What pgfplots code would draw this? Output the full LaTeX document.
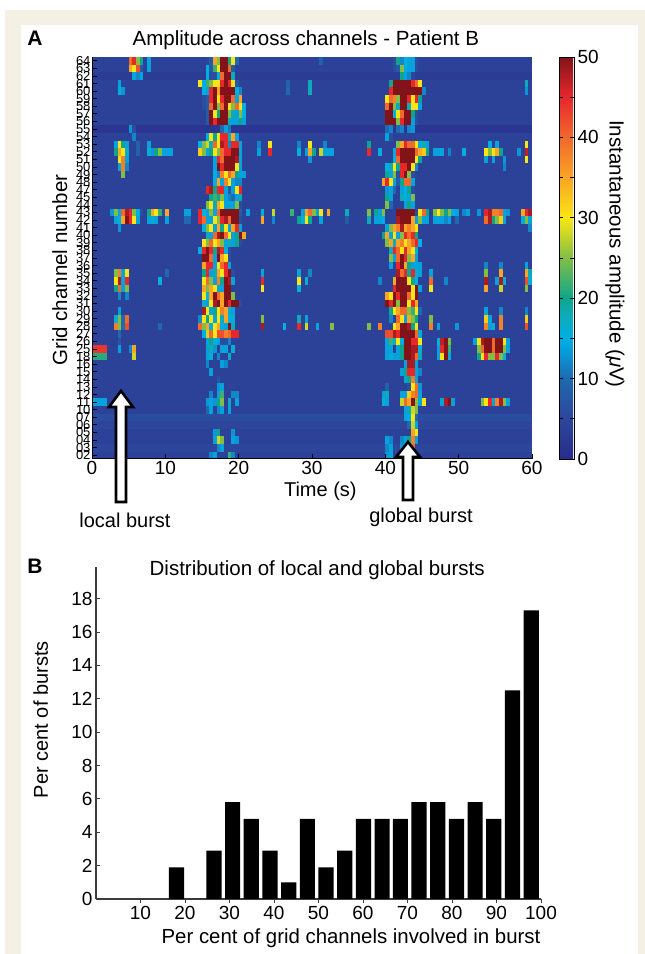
\documentclass[border=0pt]{standalone}
\usepackage{fontspec}
\setmainfont{Liberation Sans}
\usepackage{pgfplots}
\usepackage{pgfplotstable}
\pgfplotsset{compat=1.18}

\definecolor{cream}{RGB}{244,241,228}
\definecolor{spine}{RGB}{60,60,60}

\pgfplotsset{
  colormap={brain}{
    rgb255(0pt)=(40,44,138);
    rgb255(5pt)=(45,70,155);
    rgb255(10pt)=(30,105,175);
    rgb255(13pt)=(10,150,215);
    rgb255(15pt)=(0,175,225);
    rgb255(18pt)=(15,170,185);
    rgb255(20pt)=(15,165,140);
    rgb255(25pt)=(130,190,70);
    rgb255(30pt)=(250,230,20);
    rgb255(35pt)=(250,165,35);
    rgb255(40pt)=(240,105,45);
    rgb255(45pt)=(230,40,45);
    rgb255(50pt)=(130,20,25)
  }
}

% amplitude in uV, one line per channel (r52 = channel 64 ... r0 = channel 02),
% one value per 0.5 s, spaced in blocks of 5 s
\pgfplotstableread{
ch 0 0.5 1 1.5 2 2.5 3 3.5 4 4.5 5 5.5 6 6.5 7 7.5 8 8.5 9 9.5 10 10.5 11 11.5 12 12.5 13 13.5 14 14.5 15 15.5 16 16.5 17 17.5 18 18.5 19 19.5 20 20.5 21 21.5 22 22.5 23 23.5 24 24.5 25 25.5 26 26.5 27 27.5 28 28.5 29 29.5 30 30.5 31 31.5 32 32.5 33 33.5 34 34.5 35 35.5 36 36.5 37 37.5 38 38.5 39 39.5 40 40.5 41 41.5 42 42.5 43 43.5 44 44.5 45 45.5 46 46.5 47 47.5 48 48.5 49 49.5 50 50.5 51 51.5 52 52.5 53 53.5 54 54.5 55 55.5 56 56.5 57 57.5 58 58.5 59 59.5 60
r52  4 4 4 4 4 4 4 4 4 4  40 45 25 20 4 14 4 4 4 4  4 4 4 4 4 4 4 4 4 4  4 5 8 35 25 50 50 20 30 10  4 4 4 4 4 4 4 4 4 4  4 4 4 4 4 4 4 4 4 4  4 4 9 4 4 4 4 4 4 4  4 4 4 4 4 4 4 4 4 4  4 4 6 20 12 15 14 14 6 4  4 4 4 4 4 4 4 4 4 4  4 4 4 4 4 4 4 4 4 4  4 4 4 4 4 4 4 4 4 4  4
r51  4 4 4 4 4 4 4 4 4 4  35 30 42 8 4 14 4 4 4 4  4 4 4 4 4 4 4 4 4 4  4 15 8 22 30 50 50 40 8 4  4 4 4 4 4 4 4 4 4 4  4 4 4 4 4 4 4 4 4 4  4 4 4 4 4 4 4 4 4 4  4 4 4 4 4 4 4 4 4 4  4 4 6 8 25 15 14 14 6 4  4 4 4 4 4 4 4 4 4 4  4 4 4 4 4 4 4 4 4 4  4 4 4 4 4 4 4 4 4 4  4
r50  3 3 3 3 3 3 3 3 3 3  3 14 12 14 3 3 3 3 3 3  3 3 3 3 3 3 3 3 3 3  3 15 6 6 16 40 50 50 18 3  3 3 3 3 3 3 3 3 3 3  3 3 3 3 3 3 3 3 3 3  3 3 3 3 3 3 3 3 3 3  3 3 3 3 3 3 3 3 3 3  3 3 3 3 20 14 12 5 3 3  3 3 3 3 3 3 3 3 3 3  3 3 3 3 3 3 3 3 3 3  3 3 3 3 3 3 3 3 3 3  3
r49  4 4 4 4 4 4 4 14 4 4  4 4 4 4 4 4 4 4 4 4  4 4 4 4 4 4 4 4 4 30  15 22 25 30 30 45 50 45 30 8  4 4 4 4 4 4 4 4 4 4  4 4 4 9 4 4 4 4 4 18  4 4 4 4 4 4 4 4 4 4  4 4 4 4 4 4 4 4 4 4  4 20 50 50 50 50 50 45 40 30  4 4 4 4 4 4 4 4 4 4  4 4 4 4 4 4 4 4 4 4  4 4 4 4 4 4 4 4 18 4  4
r48  4 4 4 4 4 4 4 16 13 4  4 4 4 4 4 4 4 4 4 4  4 4 4 4 4 4 4 4 4 4  15 14 45 50 35 50 50 50 50 15  12 4 4 4 4 4 4 4 4 4  4 4 4 10 4 4 4 4 4 18  4 4 4 4 4 4 4 4 4 4  4 4 4 4 4 4 4 4 4 4  4 45 50 50 50 50 50 50 50 50  12 4 4 4 4 4 4 4 4 4  4 4 4 4 4 4 4 4 4 4  4 4 4 4 4 4 4 4 13 4  4
r47  4 4 4 4 4 4 4 4 4 4  4 4 4 4 4 4 4 4 4 4  4 4 4 4 4 4 4 4 4 4  6 8 45 50 30 45 50 50 40 14  35 4 4 4 4 4 4 4 4 4  4 4 4 4 4 4 4 4 4 4  4 4 4 4 4 4 4 4 4 4  4 4 4 4 4 4 4 4 4 4  30 40 38 25 50 50 45 30 45 20  4 4 4 4 4 4 4 4 4 4  4 4 4 4 4 4 4 4 4 4  4 4 4 4 4 4 4 4 4 4  4
r46  4 4 4 4 4 4 4 4 4 4  4 4 4 4 4 4 4 4 4 4  4 4 4 4 4 4 4 4 4 4  6 8 40 50 25 40 50 30 25 40  30 15 4 4 4 4 4 4 4 4  4 4 4 4 4 4 4 4 4 4  4 4 4 4 4 4 4 4 4 4  4 4 4 4 4 4 4 4 4 4  40 50 25 18 50 50 18 30 30 14  4 4 4 4 4 4 4 4 4 4  4 4 4 4 4 4 4 4 4 4  4 4 4 4 4 4 4 4 4 4  4
r45  4 4 4 4 4 4 4 4 4 4  4 4 4 4 4 4 4 4 4 4  4 4 4 4 4 4 4 4 4 4  4 8 50 30 20 50 50 25 18 14  25 15 4 4 4 4 4 4 4 4  4 4 4 4 4 4 4 4 4 4  4 4 4 4 4 4 4 4 4 4  4 4 4 4 4 4 4 4 4 4  50 50 15 30 40 50 50 20 6 4  4 4 4 4 4 4 4 4 4 4  4 4 4 4 4 4 4 4 4 4  4 4 4 4 4 4 4 4 4 4  4
r44  4 4 4 4 4 4 4 4 4 4  4 4 4 4 4 4 4 4 4 4  4 4 4 4 4 4 4 4 4 4  4 8 50 45 50 50 50 18 14 14  20 14 4 4 4 4 4 4 4 4  4 4 4 4 4 4 4 4 4 4  4 4 4 4 4 4 4 4 4 4  4 4 4 4 4 4 4 4 4 4  50 50 50 25 45 50 50 14 6 4  4 4 4 4 4 4 4 4 4 4  4 4 4 4 4 4 4 4 4 4  4 4 4 4 4 4 4 4 4 4  4
r43  2 2 2 2 2 2 2 2 2 2  13 6 2 2 2 2 2 2 2 2  2 2 2 2 2 2 2 2 2 2  2 2 2 2 2 10 14 11 2 2  2 2 2 2 2 2 2 2 2 2  2 2 2 2 2 2 2 2 2 2  2 2 2 2 2 2 2 2 2 2  2 2 2 2 2 2 2 2 2 2  10 12 2 10 12 2 12 13 2 2  2 2 2 2 2 2 2 2 2 2  2 2 2 2 2 2 2 2 2 2  2 2 2 2 2 2 2 2 2 2  2
r42  4 4 4 4 4 4 4 4 4 4  4 12 4 4 4 4 4 4 4 4  4 4 4 4 4 4 4 4 4 4  4 15 30 20 30 45 45 18 35 14  4 4 4 4 4 4 4 4 4 4  4 4 4 4 4 4 4 4 4 4  4 4 4 4 4 4 4 4 4 4  4 4 4 4 4 4 4 4 4 4  14 6 4 4 4 4 4 4 4 4  4 4 4 4 4 4 4 4 4 4  4 4 4 4 4 4 4 4 4 4  4 4 4 4 4 4 4 4 4 4  4
r41  4 4 4 4 4 4 14 30 20 14  4 4 9 4 4 14 4 4 4 4  4 4 4 4 4 4 4 4 4 15  25 28 18 40 30 48 45 12 45 45  14 4 4 4 4 12 4 4 30 4  4 4 4 4 4 4 12 4 4 30  4 4 4 12 4 4 4 4 4 4  4 4 4 4 4 20 4 4 4 4  4 4 4 25 35 45 40 40 30 16  18 14 4 4 4 4 4 4 4 4  4 4 4 4 4 4 4 4 15 4  14 4 4 4 4 4 4 4 30 4  4
r40  4 4 4 4 4 4 20 35 30 16  4 4 9 4 4 16 13 20 25 14  14 14 4 4 4 4 4 4 4 32  25 14 20 30 25 40 45 45 50 50  14 4 4 4 4 14 4 4 45 4  4 4 4 4 4 4 15 4 14 35  20 4 28 14 14 14 4 4 4 4  4 4 4 4 4 45 4 4 15 4  4 4 16 45 50 50 50 50 40 35  32 20 4 14 14 14 4 12 4 4  4 15 4 4 4 4 4 30 25 30  35 20 4 4 4 4 13 4 47 4  4
r39  4 4 4 4 4 4 4 30 38 14  4 4 4 4 4 4 4 4 4 4  4 4 4 4 4 4 4 4 4 4  4 4 4 14 45 40 50 50 50 48  14 4 4 4 4 4 4 4 4 4  4 4 4 4 4 4 4 4 4 13  4 4 4 4 4 4 4 4 4 4  4 4 4 4 4 4 4 4 4 4  4 4 15 40 50 50 50 50 30 20  4 4 4 4 4 4 4 4 4 4  4 4 4 4 4 4 4 14 4 14  4 4 13 4 4 4 4 4 30 4  4
r38  4 4 4 4 4 4 4 14 38 12  4 4 4 4 4 4 4 4 4 4  4 4 4 4 4 4 4 4 4 4  4 4 4 14 50 45 50 50 50 30  14 4 4 4 4 4 4 4 4 4  4 4 4 4 4 4 4 4 4 4  4 4 4 4 4 4 4 4 4 4  4 4 4 4 4 4 4 4 4 4  15 18 30 20 45 45 50 30 12 4  4 4 4 4 4 4 4 4 4 4  4 4 4 4 4 4 4 4 4 4  4 4 12 4 4 4 4 4 4 4  4
r37  4 4 4 4 4 4 4 4 25 4  4 4 4 4 4 4 4 4 4 4  4 4 4 4 4 4 4 4 4 4  4 4 4 15 12 38 30 40 35 20  14 14 4 4 4 4 4 4 4 4  4 4 4 4 4 4 4 4 4 4  4 4 4 4 4 4 4 4 4 4  4 4 4 4 4 4 4 4 4 4  20 14 25 6 45 50 25 6 4 4  4 4 4 4 4 4 4 4 4 4  4 4 4 4 4 4 4 4 4 4  4 4 4 4 4 4 4 4 4 4  4
r36  4 4 4 4 4 4 4 4 4 4  4 4 4 4 4 4 4 4 4 4  4 4 4 4 4 4 4 4 4 4  4 4 4 15 35 14 38 30 14 12  12 4 4 4 4 4 4 4 4 4  4 4 4 4 4 4 4 4 4 4  4 4 4 4 4 4 4 4 4 4  4 4 4 4 4 4 4 4 4 35  45 30 14 8 20 40 40 14 4 4  4 4 4 4 4 4 4 4 4 4  4 4 4 4 4 4 4 4 4 4  4 4 4 4 4 4 4 4 4 4  4
r35  4 4 4 4 4 4 4 4 4 4  4 4 4 4 4 4 4 4 4 4  4 4 4 4 4 4 4 4 4 4  4 45 48 20 45 45 14 8 14 30  45 4 4 4 4 4 4 4 4 4  4 4 4 4 4 4 4 4 4 4  4 4 4 4 4 4 4 4 4 4  4 4 4 4 4 4 4 4 4 4  13 14 10 4 14 15 20 6 4 4  4 4 4 4 4 4 4 4 4 4  4 4 4 4 4 4 4 4 4 4  4 4 4 4 4 4 4 4 4 4  4
r34  4 4 4 4 4 4 4 4 4 4  4 4 4 4 4 4 4 4 4 4  4 4 4 4 4 4 4 4 4 4  4 4 20 22 20 25 14 12 10 14  18 4 4 4 4 4 4 4 4 4  4 4 4 4 4 4 4 4 4 4  4 4 4 4 4 4 4 4 4 4  4 4 4 4 4 4 4 4 4 4  20 14 4 4 18 15 14 25 4 4  4 4 4 4 4 4 4 4 4 4  4 4 4 4 4 4 4 4 4 4  4 4 4 4 4 4 4 4 4 4  4
r33  4 4 4 4 4 4 4 4 4 4  4 4 4 4 4 4 4 4 4 4  4 4 4 4 4 4 4 4 4 4  4 25 30 18 35 30 14 14 14 25  6 4 4 4 4 4 4 4 4 4  4 4 4 4 4 4 4 4 4 4  4 4 4 4 4 4 4 4 4 4  4 4 4 4 4 4 4 4 4 4  25 10 4 4 4 14 20 14 4 4  4 4 4 4 4 4 4 4 4 4  4 4 4 4 4 4 4 4 4 4  4 4 4 4 4 4 4 4 4 4  4
r32  4 4 4 4 4 13 25 14 40 48  45 25 15 6 4 20 35 30 22 6  35 4 4 4 4 14 14 4 4 45  15 14 25 14 40 50 50 50 50 50  8 4 14 4 4 4 16 4 4 28  4 4 4 4 22 4 4 14 35 40  25 14 30 4 35 4 4 4 4 18  4 4 4 4 4 25 4 20 14 25  4 4 4 50 50 50 50 50 6 30  40 20 4 25 30 25 20 25 15 14  4 12 14 4 4 13 4 45 48 38  38 40 14 13 4 4 4 35 45 48  4
r31  4 4 4 4 4 4 14 15 35 50  45 30 14 4 4 14 16 14 4 4  14 4 4 4 4 10 10 4 4 45  40 14 14 30 25 45 48 40 50 50  6 4 4 4 4 4 35 4 4 12  4 4 4 4 4 4 20 15 30 20  4 4 14 4 4 4 4 4 4 8  4 4 4 4 4 18 4 14 14 15  4 4 4 48 50 50 50 35 14 25  14 14 4 14 14 14 12 14 4 10  4 4 4 4 4 4 4 40 48 20  25 32 14 4 4 4 4 16 25 14  4
r30  4 4 4 4 4 4 4 13 4 4  4 4 4 4 4 4 4 4 4 4  4 4 4 4 4 4 4 4 4 4  15 25 30 14 35 20 30 14 35 45  14 4 4 4 4 4 4 4 4 4  4 4 4 4 4 4 4 4 4 4  4 4 4 4 4 4 4 4 4 4  4 4 4 4 4 4 4 4 4 4  14 25 35 38 48 35 38 35 30 4  4 4 4 4 4 4 4 4 4 4  4 4 4 4 4 4 4 4 4 4  4 4 4 4 4 4 4 4 4 12  4
r29  4 4 4 4 4 4 4 4 4 4  4 4 4 4 4 4 4 4 4 4  4 4 4 4 4 4 4 4 4 4  4 18 14 40 48 50 40 30 14 20  50 35 4 4 4 4 4 4 4 4  4 4 4 4 4 4 4 4 4 4  4 4 4 4 4 4 4 4 4 4  4 4 4 4 4 4 4 4 4 20  35 14 30 14 25 45 40 45 20 4  4 4 4 4 4 4 4 4 4 4  4 4 4 4 4 4 4 4 4 4  4 4 4 4 4 4 4 4 4 4  4
r28  4 4 4 4 4 4 4 4 4 4  4 4 4 4 4 4 4 4 4 4  4 4 4 4 4 4 4 4 4 4  30 25 40 30 35 25 14 18 14 20  6 4 4 4 4 4 4 4 4 4  4 4 4 4 4 4 4 4 4 4  4 4 4 4 4 4 4 4 4 4  4 4 4 4 4 4 4 4 4 4  25 35 18 35 38 30 35 40 45 15  4 4 4 4 4 4 4 4 4 4  4 4 4 4 4 4 4 4 4 4  4 4 4 4 4 4 4 4 4 4  4
r27  4 4 4 4 4 4 4 4 4 4  4 4 4 4 4 4 4 4 4 4  4 4 4 4 4 4 4 4 4 15  45 50 45 20 48 45 15 6 4 4  4 4 4 4 4 4 4 4 4 4  4 4 4 4 4 4 4 4 4 4  4 4 4 4 4 4 4 4 4 4  4 4 4 4 4 4 4 4 4 4  4 18 45 40 30 45 35 30 15 4  4 4 4 4 4 4 4 4 4 4  4 4 4 4 4 4 4 4 4 4  4 4 4 4 4 4 4 4 4 4  4
r26  4 4 4 4 4 4 4 4 4 4  4 4 4 4 4 4 4 4 4 4  4 4 4 4 4 4 4 4 4 4  50 50 40 14 50 35 30 6 4 4  4 4 4 4 4 4 4 4 4 4  4 4 4 4 4 4 4 4 4 4  4 4 4 4 4 4 4 4 4 4  4 4 4 4 4 4 4 4 4 4  4 25 14 40 50 45 25 35 14 4  4 4 4 4 4 4 4 4 4 4  4 4 4 4 4 4 4 4 4 4  4 4 4 4 4 4 4 4 4 4  4
r25  4 4 4 4 4 4 4 4 4 4  4 4 4 4 4 4 4 4 4 4  4 4 4 4 4 4 4 4 4 4  35 45 45 14 30 40 45 14 4 4  4 4 4 4 4 4 4 4 4 4  4 4 4 4 4 4 4 4 4 4  4 4 4 4 4 4 4 4 4 4  4 4 4 4 4 4 4 4 4 4  4 14 4 45 50 35 20 14 14 14  4 4 4 4 4 4 4 4 4 4  4 4 4 4 4 4 4 12 4 4  4 12 4 4 4 4 4 4 14 4  4
r24  4 4 4 4 4 4 25 38 14 30  4 4 4 4 4 4 4 4 4 4  10 4 4 4 4 4 4 4 4 4  20 45 14 18 35 30 45 50 6 4  4 4 4 4 4 4 14 4 4 4  4 4 4 4 4 4 14 4 4 12  4 4 4 4 4 4 4 4 4 4  4 4 4 4 4 4 4 4 4 4  4 4 4 48 40 45 20 45 16 14  4 4 14 4 4 4 4 4 4 4  4 4 4 4 4 4 4 25 4 4  4 35 4 4 4 4 4 4 35 18  4
r23  4 4 4 4 4 4 30 48 14 45  4 4 4 4 4 4 4 4 15 4  4 4 4 4 4 4 4 4 4 4  30 40 25 14 38 20 50 48 14 4  4 4 4 4 4 4 45 4 4 4  4 4 4 4 4 4 30 4 16 4  4 4 4 4 4 4 4 4 4 4  4 4 4 4 4 4 4 4 12 4  4 4 35 50 50 50 30 20 15 4  4 4 40 4 4 4 12 4 4 4  4 4 4 4 4 4 4 48 4 4  14 48 16 4 4 4 4 4 42 16  4
r22  4 4 4 4 4 4 20 40 14 25  4 4 4 4 4 4 4 4 4 4  4 4 4 4 4 4 4 4 4 4  35 25 35 30 14 14 50 50 4 4  4 4 4 4 4 4 30 4 4 4  4 4 4 4 4 4 15 4 4 4  4 4 4 4 4 4 4 4 4 4  4 4 4 4 4 4 4 4 4 4  4 4 45 50 50 50 50 30 50 14  4 4 30 4 4 4 4 4 4 4  4 4 4 4 4 4 4 35 4 4  4 28 4 4 4 4 4 4 25 4  4
r21  4 4 4 4 4 4 4 12 4 12  4 4 4 4 4 4 4 4 4 4  4 4 4 4 4 4 4 4 4 4  30 15 35 50 40 35 50 50 25 4  4 4 4 4 4 4 4 4 4 4  4 4 4 4 4 4 4 4 4 4  4 4 4 4 4 4 4 4 4 4  4 4 4 4 4 4 4 4 4 4  35 30 50 45 50 50 40 30 50 4  4 4 4 4 4 4 4 4 4 4  4 4 4 4 4 4 4 4 4 4  4 4 4 4 4 4 4 4 4 4  4
r20  4 4 4 4 4 4 4 4 4 4  4 4 4 4 4 4 4 4 4 4  4 4 4 4 4 4 4 4 4 4  16 14 30 48 50 35 50 45 50 50  6 4 4 4 4 4 4 4 4 4  4 4 4 4 4 4 4 4 4 4  4 4 4 4 4 4 4 4 4 4  4 4 4 4 4 4 4 4 4 4  50 45 50 25 50 50 30 45 35 4  4 4 4 4 4 4 4 4 4 4  4 4 4 4 4 4 4 4 4 4  4 4 4 4 4 4 4 4 4 4  4
r19  4 4 4 4 4 4 4 14 4 4  4 4 4 4 4 4 4 4 4 4  4 4 4 4 4 4 4 4 4 4  48 30 14 20 30 38 35 16 14 4  4 4 4 4 4 4 4 4 4 4  4 4 4 4 4 4 4 4 4 4  4 4 4 4 4 4 4 4 4 4  4 4 4 4 4 4 4 4 4 4  4 20 30 35 40 40 25 22 30 10  4 4 4 4 4 4 4 4 4 4  4 4 4 4 4 4 4 14 4 4  4 12 4 4 4 4 4 4 12 4  4
r18  4 4 4 4 4 4 16 25 10 40  4 4 4 4 4 4 4 4 4 4  4 4 4 4 4 4 4 4 4 12  30 20 30 14 30 18 35 15 16 4  4 4 4 4 4 4 25 4 4 4  4 4 4 4 4 4 18 4 14 4  4 4 4 4 4 4 4 4 4 4  4 4 4 4 4 4 4 4 4 4  4 12 4 40 30 14 35 25 20 4  4 4 25 4 4 4 4 4 4 4  4 4 4 4 4 4 4 32 14 4  4 38 4 4 4 4 4 4 32 4  4
r17  4 4 4 4 4 4 38 25 10 42  4 4 4 4 4 4 4 4 10 4  4 4 4 4 4 4 4 4 4 40  25 35 15 30 35 15 14 50 18 4  4 4 4 4 4 4 48 4 4 4  4 4 15 4 4 4 45 4 28 4  4 14 4 4 4 25 4 4 4 4  4 4 4 4 4 25 4 4 38 4  4 4 30 35 50 50 48 20 30 4  4 4 38 4 14 4 4 4 4 13  4 4 4 4 4 4 4 38 14 16  4 38 4 4 4 4 4 4 42 4  4
r16  4 4 4 4 4 4 4 10 4 4  4 4 4 4 4 4 4 4 4 4  4 4 4 4 4 4 4 4 4 4  15 28 40 30 42 42 38 40 45 45  4 4 4 4 4 4 4 4 4 4  4 4 4 4 4 4 4 4 4 4  4 4 4 4 4 4 4 4 4 4  4 4 4 4 4 4 4 4 4 4  42 42 48 45 50 50 50 50 40 16  4 4 4 4 4 4 4 4 4 4  4 4 4 4 4 4 4 4 4 4  4 4 4 4 4 4 4 4 4 4  4
r15  4 4 4 4 4 4 4 7 4 4  4 4 4 4 4 4 4 4 4 4  4 4 4 4 4 4 4 4 4 4  4 14 20 15 14 6 6 12 4 4  4 4 4 4 4 4 4 4 4 4  4 4 4 4 4 4 4 4 4 4  4 4 4 4 4 4 4 4 4 4  4 4 4 4 4 4 4 4 4 4  14 22 18 30 15 50 50 45 45 30  4 4 4 4 15 47 50 25 4 4  4 4 4 4 14 30 48 50 50 40  50 50 30 14 4 4 4 4 4 4  4
r14  44 44 44 44 4 4 4 14 4 4  12 35 4 4 4 4 4 4 4 4  4 4 4 4 4 4 4 4 4 4  4 14 18 13 4 14 14 4 16 4  4 4 4 4 4 4 4 4 4 4  4 4 4 4 4 4 4 4 4 4  4 4 4 4 4 4 4 4 4 4  4 4 4 4 4 4 4 4 4 4  14 14 4 14 20 50 50 48 48 16  4 4 4 4 14 45 50 22 4 4  4 4 4 4 4 25 40 50 50 40  50 50 25 14 4 4 4 4 4 4  4
r13  21 21 21 21 4 4 4 4 4 4  4 28 4 4 4 4 4 4 4 4  4 4 4 4 4 4 4 4 4 4  4 14 16 4 12 4 4 18 4 4  4 4 4 4 4 4 4 4 4 4  4 4 4 4 4 4 4 4 4 4  4 4 4 4 4 4 4 4 4 4  4 4 4 4 4 4 4 4 4 4  14 15 14 14 20 50 50 48 40 18  4 4 4 4 14 30 50 15 4 4  4 4 4 4 4 20 30 45 25 25  45 25 15 4 4 4 4 4 4 4  4
r12  4 4 4 4 4 4 4 4 4 4  4 4 4 4 4 4 4 4 4 4  4 4 4 4 4 4 4 4 4 4  4 12 4 4 4 14 12 4 4 4  4 4 4 4 4 4 4 4 4 4  4 4 4 4 4 4 4 4 4 4  4 4 4 4 4 4 4 4 4 4  4 4 4 4 4 4 4 4 4 4  4 4 4 4 4 14 48 48 14 4  4 4 4 4 4 4 4 4 4 4  4 4 4 4 4 4 4 4 4 4  4 4 4 4 4 4 4 4 4 4  4
r11  4 4 4 4 4 4 4 4 4 4  4 4 4 4 4 4 4 4 4 4  4 4 4 4 4 4 4 4 4 4  4 4 14 4 4 4 4 4 4 4  4 4 4 4 4 4 4 4 4 4  4 4 4 4 4 4 4 4 4 4  4 4 4 4 4 4 4 4 4 4  4 4 4 4 4 4 4 4 4 4  4 4 4 4 14 20 45 45 14 12  4 4 4 4 4 4 4 4 4 4  4 4 4 4 4 4 4 4 4 4  4 4 4 4 4 4 4 4 4 4  4
r10  4 4 4 4 4 4 4 4 4 4  4 4 4 4 4 4 4 4 4 4  4 4 4 4 4 4 4 4 4 4  4 4 4 4 7 4 4 4 4 4  4 4 4 4 4 4 4 4 4 4  4 4 4 4 4 4 4 4 4 4  4 4 4 4 4 4 4 4 4 4  4 4 4 4 4 4 4 4 4 4  4 4 4 4 4 14 20 38 14 4  4 4 4 4 4 4 4 4 4 4  4 4 4 4 4 4 4 4 4 4  4 4 4 4 4 4 4 4 4 4  4
r9  4 4 4 4 4 4 4 4 4 4  4 4 4 4 4 4 4 4 4 4  4 4 4 4 4 4 4 4 4 4  4 4 4 4 13 14 4 4 4 4  4 4 4 4 4 4 4 4 4 4  4 4 4 4 4 4 4 4 4 4  4 4 4 4 4 4 4 4 4 4  4 4 4 4 4 4 4 4 4 4  9 4 4 4 4 4 6 30 40 13  4 4 4 4 4 4 4 4 4 4  4 4 4 4 4 4 4 4 4 4  4 4 4 4 4 4 4 4 4 4  4
r8  4 4 4 4 4 4 4 4 4 4  4 4 4 4 4 4 4 4 4 4  4 4 4 4 4 4 4 4 4 4  4 4 12 4 14 22 4 4 12 12  4 4 4 4 4 4 4 4 4 4  4 4 4 4 4 4 4 4 4 4  4 4 4 4 4 4 4 4 4 4  4 4 4 4 4 4 4 4 4 14  18 4 4 4 14 14 32 38 40 14  4 4 4 4 4 4 4 4 4 4  4 4 4 4 4 4 4 4 4 4  4 4 4 4 4 4 4 4 4 4  4
r7  14 14 14 14 4 4 4 4 4 4  4 4 4 4 4 4 4 4 4 4  4 4 4 4 4 4 4 4 4 4  4 13 14 13 20 25 4 18 4 14  4 4 4 4 4 4 4 4 4 4  4 4 4 4 4 4 4 4 4 4  4 4 4 4 4 4 4 4 4 4  4 4 4 4 4 4 4 4 4 16  14 4 4 4 28 40 35 50 25 14  30 4 4 4 4 14 48 50 14 4  4 4 4 4 4 4 25 30 45 14  38 48 25 14 4 4 4 4 4 4  4
r6  4 4 4 4 4 4 4 4 4 4  4 4 4 4 4 4 4 4 4 4  4 4 4 4 4 4 4 4 4 4  4 10 14 4 12 14 4 14 4 4  4 4 4 4 4 4 4 4 4 4  4 4 4 4 4 4 4 4 4 4  4 4 4 4 4 4 4 4 4 4  4 4 4 4 4 4 4 4 4 4  4 4 4 4 4 14 18 28 25 4  4 4 4 4 4 4 4 4 4 4  4 4 4 4 4 4 4 4 4 4  4 4 4 4 4 4 4 4 4 4  4
r5  6 6 6 6 6 6 6 6 6 6  6 6 6 6 6 6 6 6 6 6  6 6 6 6 6 6 6 6 6 6  6 6 6 6 6 6 6 6 6 6  6 6 6 6 6 6 6 6 6 6  6 6 6 6 6 6 6 6 6 6  6 6 6 6 6 6 6 6 6 6  6 6 6 6 6 6 6 6 6 6  6 6 6 6 6 14 15 30 10 6  6 6 6 6 6 6 6 6 6 6  6 6 6 6 6 6 6 6 6 6  6 6 6 6 6 6 6 6 6 6  6
r4  5 5 5 5 5 5 5 5 5 5  5 5 5 5 5 5 5 5 5 5  5 5 5 5 5 5 5 5 5 5  5 5 5 5 5 5 5 5 5 5  5 5 5 5 5 5 5 5 5 5  5 5 5 5 5 5 5 5 5 5  5 5 5 5 5 5 5 5 5 5  5 5 5 5 5 5 5 5 5 5  5 5 5 5 5 5 10 28 14 5  5 5 5 5 5 5 5 5 5 5  5 5 5 5 5 5 5 5 5 5  5 5 5 5 5 5 5 5 5 5  5
r3  4 4 4 4 4 4 4 4 4 4  4 4 4 4 4 4 4 4 4 4  4 4 4 4 4 4 4 4 4 4  4 4 4 13 20 4 4 4 13 4  4 4 4 4 4 4 4 4 4 4  4 4 4 4 4 4 4 4 4 4  4 4 4 4 4 4 4 4 4 4  4 4 4 4 4 4 4 4 4 4  4 4 4 4 4 4 4 35 30 4  4 4 4 4 4 4 4 4 4 4  4 4 4 4 4 4 4 4 4 4  4 4 4 4 4 4 4 4 4 4  4
r2  4 4 4 4 4 4 4 4 4 4  4 4 4 4 4 4 4 4 4 4  4 4 4 4 4 4 4 4 4 4  4 4 4 14 28 25 4 4 14 13  4 4 4 4 4 4 4 4 4 4  4 4 4 4 4 4 4 4 4 4  4 4 4 4 4 4 4 4 4 4  4 4 4 4 4 4 4 4 4 4  14 12 4 4 12 14 20 38 14 4  4 4 4 4 4 4 4 4 4 4  4 4 4 4 4 4 4 4 4 4  4 4 4 4 4 4 4 4 4 4  4
r1  5 5 5 5 5 5 5 5 5 5  5 5 5 5 5 5 5 5 5 5  5 5 5 5 5 5 5 5 5 5  5 5 5 5 12 14 5 5 5 5  5 5 5 5 5 5 5 5 5 5  5 5 5 5 5 5 5 5 5 5  5 5 5 5 5 5 5 5 5 5  5 5 5 5 5 5 5 5 5 5  12 14 5 5 13 18 30 40 5 5  5 5 5 5 5 5 5 5 5 5  5 5 5 5 5 5 5 5 5 5  5 5 5 5 5 5 5 5 5 5  5
r0  4 4 4 4 4 4 4 4 4 4  4 4 4 4 4 4 4 4 4 4  4 4 4 4 4 4 4 4 4 4  4 4 12 14 4 4 4 22 12 4  4 4 4 4 4 4 4 4 4 4  4 4 4 4 4 4 4 4 4 4  4 4 4 4 4 4 4 4 4 4  4 4 4 4 4 4 4 4 4 4  13 14 4 4 16 14 12 4 4 4  4 4 4 4 4 4 4 4 4 4  4 4 4 4 4 4 4 4 4 4  4 4 4 4 4 4 4 4 4 4  4
}\rawtable
\pgfplotstabletranspose[colnames from=ch,input colnames to=t]\amp{\rawtable}

\begin{document}
\begin{tikzpicture}[x=1pt,y=1pt]
\useasboundingbox (0,0) rectangle (645,954);
\fill[white] (0,0) rectangle (645,954);
\fill[cream] (5,0) rectangle (645,944);
\fill[white] (21,0) rectangle (638,929);

\begin{axis}[
  at={(92pt,495pt)}, anchor=south west,
  scale only axis, width=440pt, height=402pt,
  xmin=0, xmax=60, ymin=-0.5, ymax=52.5,
  axis background/.style={fill={rgb,255:red,42;green,50;blue,145}},
  axis on top,
  axis x line*=bottom, axis y line*=left,
  axis line style={black,line width=1pt,-},
  xtick={0,10,...,60},
  ytick={0,...,52},
  yticklabels={02,03,04,05,06,07,10,11,12,13,14,15,16,18,25,26,27,28,29,30,31,32,33,34,35,36,37,38,39,40,41,42,43,44,45,47,48,49,50,51,52,53,54,55,56,57,58,59,60,61,62,63,64},
  tick align=inside, tick style={black,line width=0.8pt},
  major tick length=5pt,
  x tick label style={font=\fontsize{19}{19}\selectfont,yshift=1pt},
  y tick label style={font=\fontsize{13}{13}\selectfont,xshift=2pt},
  /pgf/number format/assume math mode=true,
  title={Amplitude across channels - Patient B},
  title style={font=\fontsize{20.5}{20.5}\selectfont,at={(axis description cs:0.486,1.027)},anchor=center},
  xlabel={Time (s)},
  xlabel style={font=\fontsize{20}{20}\selectfont,at={(axis description cs:0.519,-0.08)},anchor=center},
  ylabel={Grid channel number},
  ylabel style={font=\fontsize{20.5}{20.5}\selectfont,at={(axis description cs:-0.073,0.47)},anchor=center},
  point meta min=0, point meta max=50,
  colormap name=brain,
  colorbar,
  colorbar style={
    at={(1.0614,0)}, anchor=south west, width=15pt,
    ytick={0,10,...,50}, minor ytick={5,15,...,45},
    tick align=inside, ytick pos=both, yticklabel pos=right,
    tick style={black,line width=0.8pt},
    major tick length=4pt, minor tick length=4pt,
    y tick label style={font=\fontsize{19}{19}\selectfont},
    /pgf/number format/assume math mode=true,
    ylabel={Instantaneous amplitude ({\itshape μ}V)},
    ylabel style={font=\fontsize{20.5}{20.5}\selectfont,rotate=180,at={(axis description cs:3.73,0.51)},anchor=center},
  },
]
\pgfplotsinvokeforeach{0,...,52}{
  \addplot[mesh,shader=flat corner,line width=7.8pt,point meta=explicit,forget plot]
    table[x=t,y expr=#1,meta=r#1] {\amp};
}
\end{axis}

\begin{axis}[
  at={(96pt,55pt)}, anchor=south west,
  scale only axis, width=445pt, height=332pt,
  xmin=0, xmax=100, ymin=0, ymax=19.9,
  axis x line*=bottom, axis y line*=left,
  axis line style={spine,line width=1.2pt,-},
  xtick={10,20,...,100},
  ytick={0,2,...,18},
  tick align=inside, tick style={spine,line width=0.8pt},
  major tick length=4pt,
  tick label style={font=\fontsize{19}{19}\selectfont},
  /pgf/number format/assume math mode=true,
  ybar, bar width=15.2pt, bar shift=0pt,
  title={Distribution of local and global bursts},
  title style={font=\fontsize{20.5}{20.5}\selectfont,at={(axis description cs:0.497,0.973)},anchor=center},
  xlabel={Per cent of grid channels involved in burst},
  xlabel style={font=\fontsize{20.4}{20.4}\selectfont,at={(axis description cs:0.573,-0.119)},anchor=center},
  ylabel={Per cent of bursts},
  ylabel style={font=\fontsize{20}{20}\selectfont,at={(axis description cs:-0.124,0.54)},anchor=center},
]
\addplot[fill=black,draw=none] coordinates {
  (18.1,1.9) (22.3,0) (26.5,2.9) (30.7,5.8) (34.9,4.8) (39.1,2.9) (43.3,1)
  (47.5,4.8) (51.7,1.9) (55.9,2.9) (60.1,4.8) (64.3,4.8) (68.4,4.8) (72.6,5.8)
  (76.8,5.8) (81,4.8) (85.2,5.8) (89.4,4.8) (93.6,12.5) (97.8,17.3)};
\end{axis}

% burst arrows
\path[draw=black,fill=white,line width=2.6pt,miter limit=8]
  (121,563) -- (133,547) -- (126,547) -- (126,452) -- (116,452) -- (116,547) -- (109,547) -- cycle;
\path[draw=black,fill=white,line width=2.6pt,miter limit=8]
  (408,512) -- (420,497) -- (413,497) -- (413,454) -- (403,454) -- (403,497) -- (396,497) -- cycle;

\node[font=\fontsize{20}{20}\selectfont] at (125,434) {local burst};
\node[font=\fontsize{20}{20}\selectfont] at (421,437) {global burst};
\node[font=\fontsize{21}{21}\selectfont\bfseries] at (35,916) {A};
\node[font=\fontsize{21}{21}\selectfont\bfseries] at (35,388) {B};
\end{tikzpicture}
\end{document}
